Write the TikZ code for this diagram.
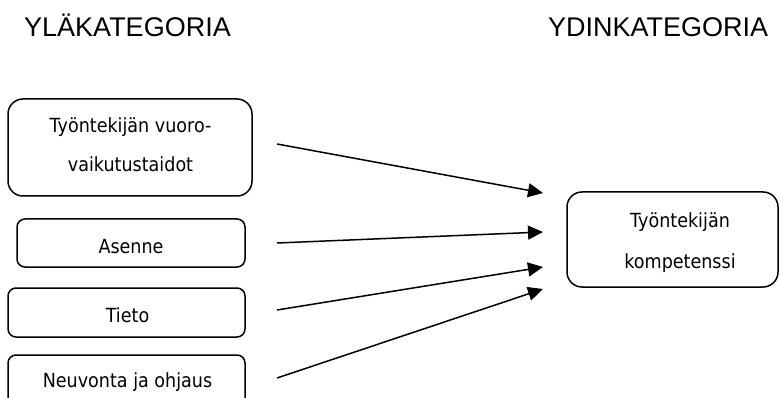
\documentclass[tikz,border=0pt]{standalone}
\usepackage{fontspec}
\setmainfont{DejaVu Sans}[FakeStretch=0.9]
\newfontfamily\headfont{Liberation Sans}
\usetikzlibrary{arrows.meta}

\tikzset{
  catbox/.style={draw=black, line width=1.5pt, rounded corners=#1, inner sep=0pt, outer sep=0pt},
  catbox/.default=8pt,
  boxtext/.style={anchor=base, inner sep=0pt, font=\fontsize{19.5}{23}\selectfont},
  headtext/.style={anchor=base west, inner sep=0pt, font=\headfont\fontsize{27}{32}\selectfont},
  link/.style={line width=1.5pt, -{Triangle[length=15pt,width=14pt]}}
}

\begin{document}
\begin{tikzpicture}[x=1pt, y=-1pt]
  \useasboundingbox (0,0) rectangle (779,398);
  \clip (0,0) rectangle (779,398);

  % column headings
  \node[headtext] (hupper) at (24,37) {YLÄKATEGORIA};
  \node[headtext] (hcore) at (548,37) {YDINKATEGORIA};

  % upper-category boxes
  \node[catbox=15pt, minimum width=244pt, minimum height=97pt] (b1) at (130,147.5) {};
  \node[boxtext] (t1a) at (130.5,133) {Työntekijän vuoro-};
  \node[boxtext] (t1b) at (130.5,172) {vaikutustaidot};

  \node[catbox, minimum width=228pt, minimum height=48pt] (b2) at (131,243) {};
  \node[boxtext] (t2) at (131,253) {Asenne};

  \node[catbox, minimum width=237pt, minimum height=49pt] (b3) at (126.5,312.5) {};
  \node[boxtext] (t3) at (127.5,322) {Tieto};

  \node[catbox, minimum width=237pt, minimum height=55pt] (b4) at (126.5,382.5) {};
  \node[boxtext] (t4) at (127.5,387) {Neuvonta ja ohjaus};

  % core-category box
  \node[catbox=15pt, minimum width=211pt, minimum height=95pt] (bc) at (672.5,239.5) {};
  \node[boxtext] (tca) at (680,228) {Työntekijän};
  \node[boxtext] (tcb) at (680,268) {kompetenssi};

  % arrow end points
  \coordinate (s1) at (277,144);
  \coordinate (e1) at (543,193);
  \coordinate (s2) at (277,243);
  \coordinate (e2) at (543,232);
  \coordinate (s3) at (277,310);
  \coordinate (e3) at (543,267);
  \coordinate (s4) at (277,378);
  \coordinate (e4) at (543,289);

  \draw[link] (s1) -- (e1);
  \draw[link] (s2) -- (e2);
  \draw[link] (s3) -- (e3);
  \draw[link] (s4) -- (e4);
\end{tikzpicture}
\end{document}
